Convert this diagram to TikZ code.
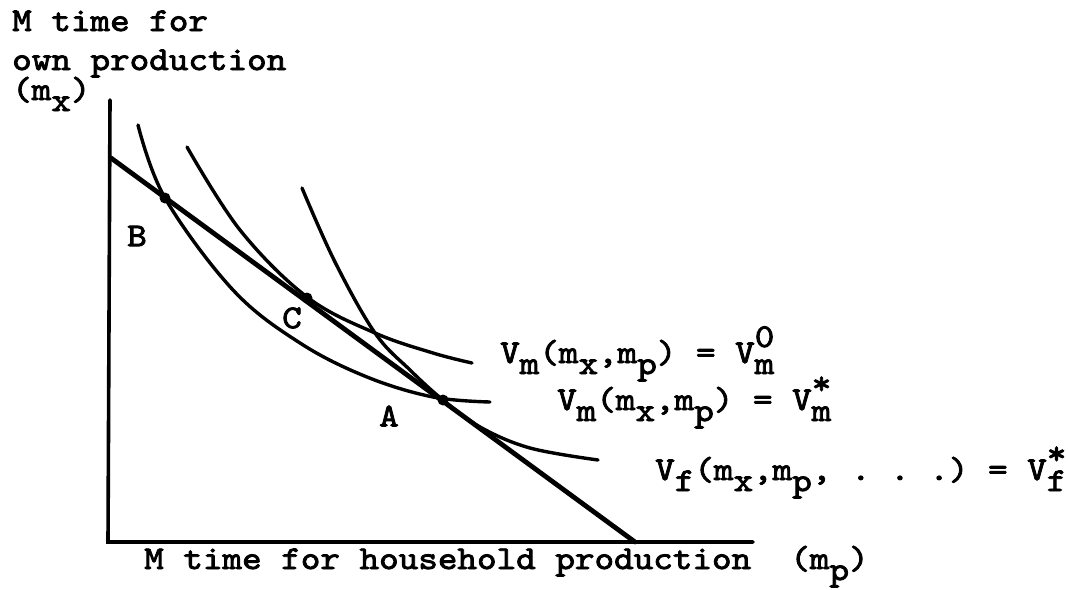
\documentclass[tikz,border=0pt]{standalone}
\usepackage{fontspec}
\newfontfamily\typer{lmmono10-regular.otf}[FakeBold=2.5, FakeStretch=1.12]
\usetikzlibrary{positioning}

% shifted letters, as on the typewriter
\newcommand{\lo}[1]{\raisebox{-11pt}{#1}}
\newcommand{\hi}[1]{\raisebox{16pt}{#1}}
\newcommand{\subsup}[2]{\rlap{\hi{#2}}\lo{#1}}
\frenchspacing

\begin{document}
\begin{tikzpicture}[
  x=1pt, y=-1pt,
  font=\typer\fontsize{33.3}{40}\selectfont,
  axis/.style={line width=3.6pt, line cap=round},
  curve/.style={line width=3.4pt, line cap=round},
  budget/.style={line width=4.8pt, line cap=round},
  txt/.style={anchor=base west, inner sep=0pt},
  pt/.style={anchor=center, inner sep=0pt}
]
\useasboundingbox (0,0) rectangle (1068,589);

% ---- Axes ----
\coordinate (ytop) at (110,100);
\coordinate (orig) at (108,542);
\coordinate (xend) at (753,542);
\draw[axis] (ytop) -- (orig) -- (xend);

% ---- Axis labels ----
\node[txt] (ylabA) at (12,31) {M time for};
\node[txt] (ylabB) at (12,70) {own production};
\node[txt] (ylabC) at (12,100) {(m\lo{x})};
\node[txt] (xlab) at (144,569) {M time for household production\ \ (m\lo{p})};

% ---- Budget line ----
\coordinate (Ltop) at (111,158);
\coordinate (Lbot) at (635,542);
\draw[budget] (Ltop) -- (Lbot);

% ---- Indifference curves ----
% V_m = V_m^* (through B and A)
\draw[curve] plot[smooth, tension=0.6] coordinates {(138,125) (165,198) (233,290) (300,343) (367,377) (433,397) (490,402)};
% V_m = V_m^0 (tangent at C)
\draw[curve] plot[smooth, tension=0.6] coordinates {(187,147) (240,230) (307,297) (375,333) (433,353) (472,363)};
% V_f = V_f^*
\draw[curve] plot[smooth, tension=0.6] coordinates {(302,188) (335,262) (375,333) (410,370) (443,400) (480,427) (530,448) (598,460)};

% ---- Points ----
\coordinate (B) at (165,198);
\coordinate (C) at (307,298);
\coordinate (A) at (443,400);
\foreach \p in {A,B,C} {
  \fill (\p) circle (5.5);
}
\node[pt] (labB) at (137,236) {B};
\node[pt] (labC) at (292,318) {C};
\node[pt] (labA) at (389,416) {A};

% ---- Curve labels ----
\node[txt] (vmzero) at (500,363) {V\lo{m}(m\lo{x},m\lo{p}) = V\subsup{m}{0}};
\node[txt] (vmstar) at (557,410) {V\lo{m}(m\lo{x},m\lo{p}) = V\subsup{m}{*}};
\node[txt] (vfstar) at (655,480) {V\lo{f}(m\lo{x},m\lo{p}, . . .) = V\subsup{f}{*}};

\end{tikzpicture}
\end{document}
